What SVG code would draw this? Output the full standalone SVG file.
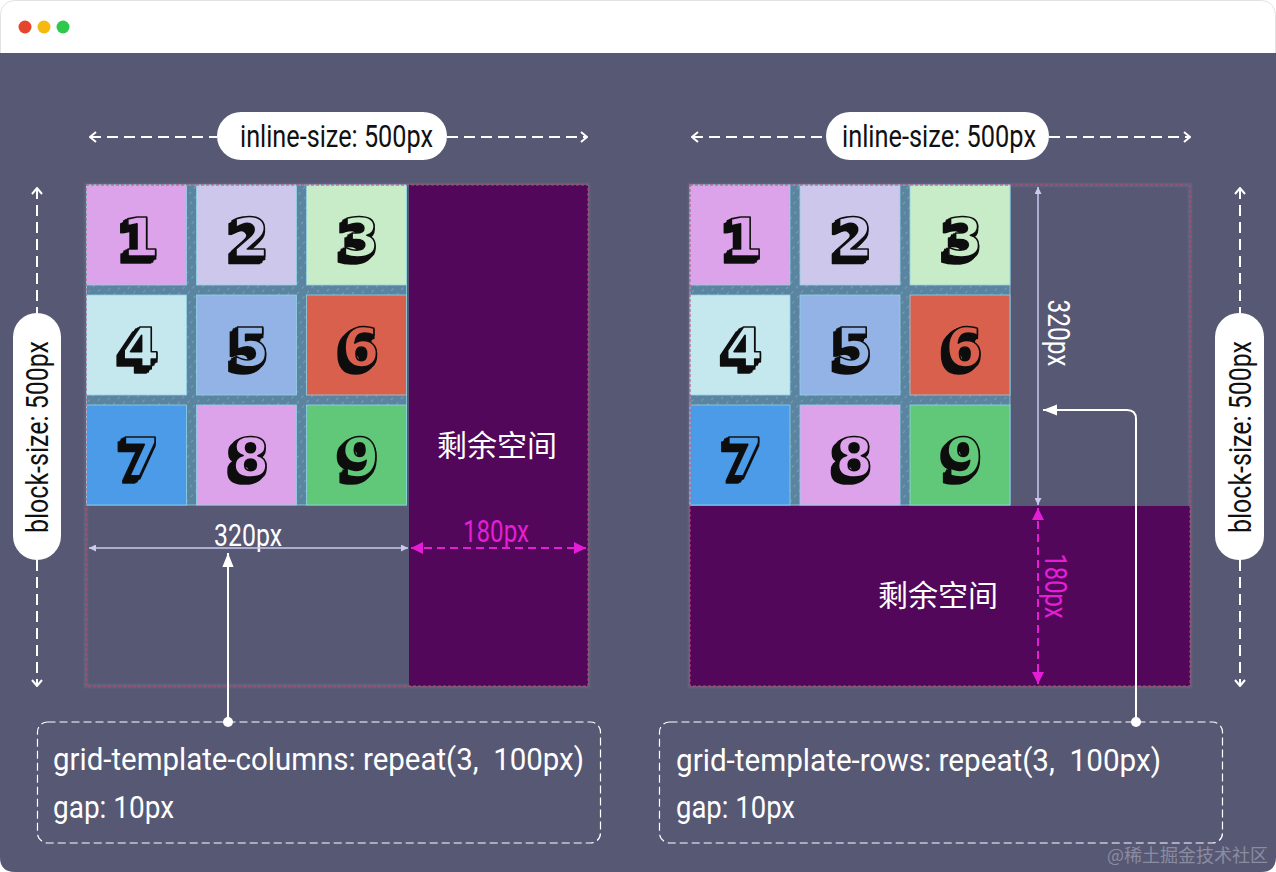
<svg xmlns="http://www.w3.org/2000/svg" width="1276" height="872" viewBox="0 0 1276 872">
<defs>
<style>
.lbl{font-family:Roboto,"Liberation Sans",sans-serif;font-size:32px;}
.code{font-family:Roboto,"Liberation Sans",sans-serif;font-size:31px;fill:#fff;}
.cjk{font-family:"Noto Sans CJK SC","Noto Sans",sans-serif;font-size:30px;fill:#fff;}
.dash{fill:none;stroke:#fff;stroke-width:2;stroke-dasharray:11 6;}
.pill{fill:#fff;}
.cell{stroke:#8fd4e8;stroke-width:0.8;}
.face{font-family:"DejaVu Sans",sans-serif;font-weight:bold;font-size:54px;stroke:#111;stroke-width:1.6;stroke-linejoin:round;text-anchor:middle;filter:url(#extrude);}
.outline{fill:none;stroke:#d3416c;stroke-width:1;stroke-dasharray:3 2;}
.halo{fill:none;stroke:#ffffff;stroke-opacity:0.05;stroke-width:5;}
.purple{fill:#52075a;}
.mag{fill:none;stroke:#e41ed6;stroke-width:2;stroke-dasharray:8 5;}
.meas{fill:none;stroke:#cbc9ee;stroke-width:1.5;}
.ptr{fill:none;stroke:#fff;stroke-width:2;}
.codebox{fill:none;stroke:#fff;stroke-width:1.2;stroke-dasharray:8 4;}
.c1,.c8{fill:#dca2ea;}.c2{fill:#cdc7ec;}.c3{fill:#c9ecc8;}.c4{fill:#c5e8ee;}.c5{fill:#93b3e6;}.c6{fill:#da604e;}.c7{fill:#4b9be8;}.c9{fill:#62c879;}
</style>
<filter id="extrude" x="-40%" y="-30%" width="180%" height="160%">
<feMorphology in="SourceAlpha" operator="dilate" radius="0.8" result="thick"/>
<feOffset in="thick" dx="-1.5" dy="1.5" result="o1"/>
<feOffset in="thick" dx="-3" dy="3" result="o2"/>
<feOffset in="thick" dx="-4.5" dy="4.5" result="o3"/>
<feOffset in="thick" dx="-6" dy="6" result="o4"/>
<feMerge result="sh"><feMergeNode in="o1"/><feMergeNode in="o2"/><feMergeNode in="o3"/><feMergeNode in="o4"/></feMerge>
<feFlood flood-color="#111"/>
<feComposite in2="sh" operator="in" result="shadow"/>
<feMerge><feMergeNode in="shadow"/><feMergeNode in="SourceGraphic"/></feMerge>
</filter>
<pattern id="hatch" width="7" height="7" patternUnits="userSpaceOnUse" patternTransform="rotate(40)">
<rect width="7" height="7" fill="#5b84a0"/>
<line x1="0" y1="1" x2="0" y2="4" stroke="#a6c8d8" stroke-width="0.8"/>
</pattern>
<marker id="chev" viewBox="0 0 12 12" refX="11" refY="6" markerWidth="12" markerHeight="12" markerUnits="userSpaceOnUse" orient="auto-start-reverse">
<path d="M5,1 L11,6 L5,11" fill="none" stroke="#fff" stroke-width="2" stroke-dasharray="none"/>
</marker>
<marker id="triM" viewBox="0 0 10 10" refX="10" refY="5" markerWidth="12" markerHeight="12" markerUnits="userSpaceOnUse" orient="auto-start-reverse">
<path d="M0,0 L10,5 L0,10 Z" fill="#e41ed6"/>
</marker>
<marker id="triL" viewBox="0 0 10 10" refX="10" refY="5" markerWidth="7" markerHeight="7" markerUnits="userSpaceOnUse" orient="auto-start-reverse">
<path d="M0,0 L10,5 L0,10 Z" fill="#cbc9ee"/>
</marker>
<marker id="triW" viewBox="0 0 10 10" refX="10" refY="5" markerWidth="14" markerHeight="14" markerUnits="userSpaceOnUse" orient="auto">
<path d="M0,1 L10,5 L0,9 Z" fill="#fff"/>
</marker>
</defs>

<g id="window">
<rect x="0" y="0" width="1276" height="872" fill="#ffffff"/>
<rect x="0.5" y="0.5" width="1275" height="871" rx="14" fill="#ffffff" stroke="#e2e2e2"/>
<path d="M0,53 H1276 V857 Q1276,872 1261,872 H15 Q0,872 0,857 Z" fill="#575874"/>
<circle cx="25" cy="27" r="6.5" fill="#e5452b"/>
<circle cx="44" cy="27" r="6.5" fill="#f5b90f"/>
<circle cx="63" cy="27" r="6.5" fill="#2dc84c"/>
</g>

<!-- LEFT DIAGRAM -->
<g id="left-container">
<rect class="halo" x="86" y="185" width="502" height="501"/>
<rect id="left-remaining" class="purple" x="409" y="185" width="179" height="501"/>
<text class="cjk" x="497" y="456" text-anchor="middle">剩余空间</text>
</g>
<g id="left-grid" transform="translate(86.5,185)">
<rect x="0" y="0" width="320" height="320" fill="url(#hatch)" stroke="#8fd4e8" stroke-width="0.8"/>
<g id="L1"><rect class="cell c1" x="0" y="0" width="100" height="100"/><text class="face c1" x="54" y="71">1</text></g>
<g id="L2"><rect class="cell c2" x="110" y="0" width="100" height="100"/><text class="face c2" x="164" y="71">2</text></g>
<g id="L3"><rect class="cell c3" x="220" y="0" width="100" height="100"/><text class="face c3" x="274" y="71">3</text></g>
<g id="L4"><rect class="cell c4" x="0" y="110" width="100" height="100"/><text class="face c4" x="54" y="181">4</text></g>
<g id="L5"><rect class="cell c5" x="110" y="110" width="100" height="100"/><text class="face c5" x="164" y="181">5</text></g>
<g id="L6"><rect class="cell c6" x="220" y="110" width="100" height="100"/><text class="face c6" x="274" y="181">6</text></g>
<g id="L7"><rect class="cell c7" x="0" y="220" width="100" height="100"/><text class="face c7" x="54" y="291">7</text></g>
<g id="L8"><rect class="cell c8" x="110" y="220" width="100" height="100"/><text class="face c8" x="164" y="291">8</text></g>
<g id="L9"><rect class="cell c9" x="220" y="220" width="100" height="100"/><text class="face c9" x="274" y="291">9</text></g>
</g>
<rect class="outline" x="86" y="185" width="502" height="501"/>

<g id="left-inline-label">
<rect class="pill" x="217" y="112" width="230" height="48" rx="24"/>
<text class="lbl" x="240" y="147" textLength="193" lengthAdjust="spacingAndGlyphs" fill="#111">inline-size: 500px</text>
</g>
<g id="left-block-label">
<rect class="pill" x="13" y="313" width="48" height="247" rx="24"/>
<text class="lbl" transform="translate(37,437) rotate(-90)" x="0" y="11" text-anchor="middle" textLength="192" lengthAdjust="spacingAndGlyphs" fill="#111">block-size: 500px</text>
</g>
<text class="lbl" x="214" y="546" textLength="68" lengthAdjust="spacingAndGlyphs" fill="#fff">320px</text>
<text class="lbl" x="463" y="542" textLength="66" lengthAdjust="spacingAndGlyphs" fill="#e41ed6">180px</text>

<g id="left-codebox">
<rect class="codebox" x="37.5" y="722" width="563" height="121" rx="10"/>
<text class="code" x="53" y="770" textLength="531" lengthAdjust="spacingAndGlyphs">grid-template-columns: repeat(3,&#160; 100px)</text>
<text class="code" x="53" y="818" textLength="121" lengthAdjust="spacingAndGlyphs">gap: 10px</text>
</g>

<!-- RIGHT DIAGRAM -->
<g id="right-container">
<rect class="halo" x="690" y="185" width="500" height="501"/>
<rect id="right-remaining" class="purple" x="690" y="506" width="500" height="180"/>
<text class="cjk" x="938" y="606" text-anchor="middle">剩余空间</text>
</g>
<g id="right-grid" transform="translate(690,185)">
<rect x="0" y="0" width="320" height="320" fill="url(#hatch)" stroke="#8fd4e8" stroke-width="0.8"/>
<g id="R1"><rect class="cell c1" x="0" y="0" width="100" height="100"/><text class="face c1" x="54" y="71">1</text></g>
<g id="R2"><rect class="cell c2" x="110" y="0" width="100" height="100"/><text class="face c2" x="164" y="71">2</text></g>
<g id="R3"><rect class="cell c3" x="220" y="0" width="100" height="100"/><text class="face c3" x="274" y="71">3</text></g>
<g id="R4"><rect class="cell c4" x="0" y="110" width="100" height="100"/><text class="face c4" x="54" y="181">4</text></g>
<g id="R5"><rect class="cell c5" x="110" y="110" width="100" height="100"/><text class="face c5" x="164" y="181">5</text></g>
<g id="R6"><rect class="cell c6" x="220" y="110" width="100" height="100"/><text class="face c6" x="274" y="181">6</text></g>
<g id="R7"><rect class="cell c7" x="0" y="220" width="100" height="100"/><text class="face c7" x="54" y="291">7</text></g>
<g id="R8"><rect class="cell c8" x="110" y="220" width="100" height="100"/><text class="face c8" x="164" y="291">8</text></g>
<g id="R9"><rect class="cell c9" x="220" y="220" width="100" height="100"/><text class="face c9" x="274" y="291">9</text></g>
</g>
<rect class="outline" x="690" y="185" width="500" height="501"/>

<g id="right-inline-label">
<rect class="pill" x="826" y="112" width="223" height="48" rx="24"/>
<text class="lbl" x="842" y="147" textLength="194" lengthAdjust="spacingAndGlyphs" fill="#111">inline-size: 500px</text>
</g>
<g id="right-block-label">
<rect class="pill" x="1215" y="313" width="49" height="247" rx="24"/>
<text class="lbl" transform="translate(1240,437) rotate(-90)" x="0" y="11" text-anchor="middle" textLength="192" lengthAdjust="spacingAndGlyphs" fill="#111">block-size: 500px</text>
</g>
<text class="lbl" transform="translate(1048,333) rotate(90)" x="0" y="0" text-anchor="middle" textLength="67" lengthAdjust="spacingAndGlyphs" fill="#fff">320px</text>
<text class="lbl" transform="translate(1045,586) rotate(90)" x="0" y="0" text-anchor="middle" textLength="65" lengthAdjust="spacingAndGlyphs" fill="#e41ed6">180px</text>

<g id="right-codebox">
<rect class="codebox" x="659.5" y="722" width="563" height="121" rx="10"/>
<text class="code" x="676" y="771" textLength="485" lengthAdjust="spacingAndGlyphs">grid-template-rows: repeat(3,&#160; 100px)</text>
<text class="code" x="676" y="818" textLength="119" lengthAdjust="spacingAndGlyphs">gap: 10px</text>
</g>

<g id="connectors">
<line class="dash" x1="90" y1="137" x2="217" y2="137" marker-start="url(#chev)"/>
<line class="dash" x1="447" y1="137" x2="587" y2="137" marker-end="url(#chev)"/>
<line class="dash" x1="37" y1="188" x2="37" y2="313" marker-start="url(#chev)"/>
<line class="dash" x1="37" y1="560" x2="37" y2="686" marker-end="url(#chev)"/>
<line class="meas" x1="89" y1="548" x2="408" y2="548" marker-start="url(#triL)" marker-end="url(#triL)"/>
<line class="mag" x1="411" y1="548" x2="586" y2="548" marker-start="url(#triM)" marker-end="url(#triM)"/>
<line class="ptr" x1="228" y1="722" x2="228" y2="553" marker-end="url(#triW)"/>
<circle cx="228" cy="722" r="5" fill="#fff"/>

<line class="dash" x1="692" y1="137" x2="826" y2="137" marker-start="url(#chev)"/>
<line class="dash" x1="1049" y1="137" x2="1190" y2="137" marker-end="url(#chev)"/>
<line class="dash" x1="1240" y1="188" x2="1240" y2="313" marker-start="url(#chev)"/>
<line class="dash" x1="1240" y1="560" x2="1240" y2="686" marker-end="url(#chev)"/>
<line class="meas" x1="1038" y1="187" x2="1038" y2="505" marker-start="url(#triL)" marker-end="url(#triL)"/>
<line class="mag" x1="1038" y1="508" x2="1038" y2="684" marker-start="url(#triM)" marker-end="url(#triM)"/>
<path class="ptr" d="M1136,722 V419 Q1136,410 1127,410 H1043" marker-end="url(#triW)"/>
<circle cx="1136" cy="722" r="5" fill="#fff"/>
</g>

<text x="1268" y="862" text-anchor="end" font-family="'Noto Sans CJK SC','Noto Sans',sans-serif" font-size="18" fill="#8b8ca0">@稀土掘金技术社区</text>
</svg>
